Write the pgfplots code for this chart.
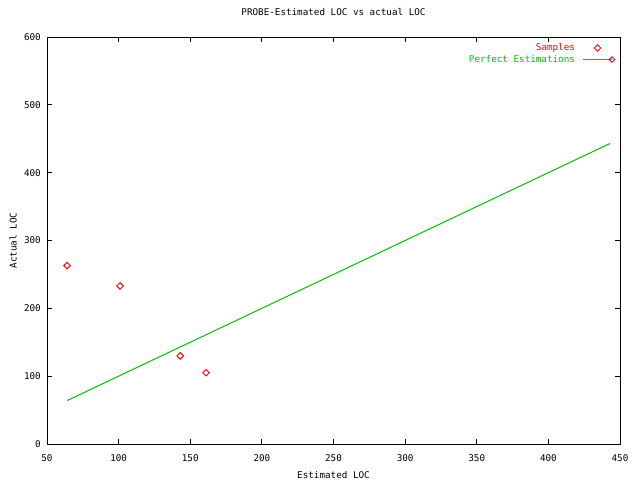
\documentclass[border=0pt]{standalone}
\usepackage{fontspec}
\setmainfont{DejaVu Sans Mono}
\usepackage{pgfplots}
\pgfplotsset{compat=1.18}
\definecolor{gpgreen}{RGB}{0,192,0}
\begin{document}
\begin{tikzpicture}[font=\fontsize{9.3}{11}\selectfont]
\useasboundingbox (0,0) rectangle (640bp,480bp);
\begin{axis}[
  at={(47bp,36bp)}, anchor=south west,
  scale only axis, width=573bp, height=407bp,
  xmin=50, xmax=450, ymin=0, ymax=600,
  xtick={50,100,...,450}, ytick={0,100,...,600},
  axis line style={line width=0.8bp},
  major tick style={line width=0.8bp, black},
  major tick length=5bp,
  /pgf/number format/assume math mode=true,
  /pgf/number format/1000 sep={},
  tick label style={font=\fontsize{9.3}{11}\selectfont},
  xticklabel style={anchor=center, yshift=-14bp},
  yticklabel style={anchor=east, inner sep=0pt, xshift=-6bp},
  title={PROBE-Estimated LOC vs actual LOC},
  title style={at={(axis description cs:0.5,1.0467)}, anchor=center, font=\fontsize{9.3}{11}\selectfont},
  xlabel={Estimated LOC},
  xlabel style={at={(axis description cs:0.5,-0.0762)}, anchor=center, font=\fontsize{9.3}{11}\selectfont},
  ylabel={Actual LOC},
  ylabel style={at={(axis description cs:-0.0593,0.5)}, anchor=center, font=\fontsize{9.3}{11}\selectfont},
  legend style={draw=none, fill=none, at={(axis description cs:1,1)}, anchor=north east, xshift=-5bp, yshift=-5bp, inner sep=0pt, row sep=0pt, font=\fontsize{9.3}{11}\selectfont, nodes={inner sep=1.5bp}},
  legend plot pos=right,
  legend cell align=right,
]
\addplot[only marks, red, mark=square, mark size=2.3bp, mark options={rotate=45, line width=1bp},
  legend image code/.code={\draw[red, line width=1bp] plot[mark=square, mark size=2.3bp, mark options={rotate=45}] coordinates {(14.5bp,0bp)};}]
  coordinates {(64,263) (101,233) (143,130) (161,105)};
\addlegendentry{\textcolor{red}{Samples}\hspace*{6bp}}
\addplot[gpgreen, line width=1bp, mark=none,
  legend image code/.code={\draw[gpgreen, line width=1bp] (0bp,0bp) -- (29bp,0bp);
    \draw[red, line width=0.9bp] plot[mark=square, mark size=2bp, mark options={rotate=45}] coordinates {(29bp,0bp)};}]
  coordinates {(64,64) (443,443)};
\addlegendentry{\textcolor{gpgreen}{Perfect Estimations}\hspace*{6bp}}
\end{axis}
\end{tikzpicture}
\end{document}
